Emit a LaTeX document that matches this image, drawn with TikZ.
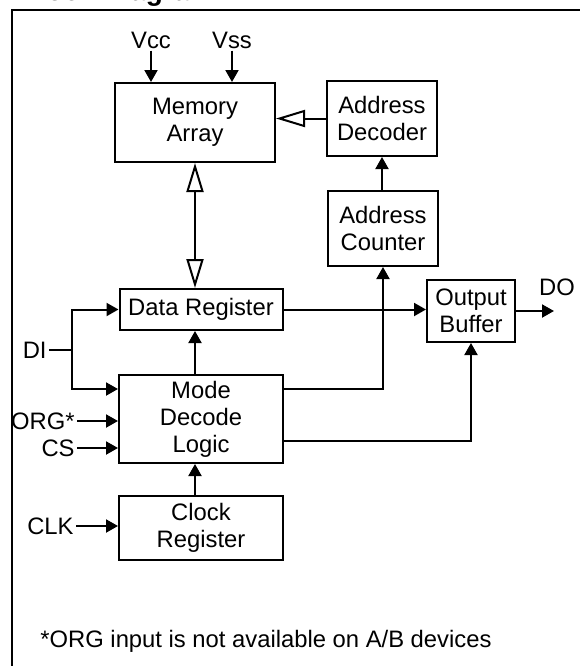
\documentclass[tikz,border=0pt]{standalone}
\usepackage{fontspec}
\setmainfont{Liberation Sans}
\usetikzlibrary{arrows.meta,positioning}

\begin{document}
\begin{tikzpicture}[
  x=0.5pt, y=-0.5pt,
  every node/.style={font=\fontsize{11.9}{13.5}\selectfont},
  box/.style={draw, line width=1pt, align=center, inner sep=0pt},
  lbl/.style={inner sep=1pt},
  wire/.style={line width=1pt},
  arr/.style={-{Triangle[length=6pt, width=6.5pt]}, line width=1pt},
  hol/.style={-{Triangle[open, length=14.5pt, width=8.5pt]}, line width=1pt},
  dbl/.style={{Triangle[open, length=14.5pt, width=8.5pt]}-{Triangle[open, length=14.5pt, width=8.5pt]}, line width=1pt}
]
\useasboundingbox (0,0) rectangle (580,666);
\draw[line width=1pt] (12,10) rectangle (610,700);
\node[anchor=base west, inner sep=0pt, font=\fontsize{14}{16}\selectfont\bfseries] (title) at (18,0) {Block Diagram};

% blocks
\node[box, minimum width=80pt, minimum height=39.5pt] (mem) at (195,122.5) {Memory\\Array};
\node[box, minimum width=55pt, minimum height=37.5pt] (dec) at (382,118.5) {Address\\Decoder};
\node[box, minimum width=55pt, minimum height=37.5pt] (cnt) at (383,228.5) {Address\\Counter};
\node[box, minimum width=81.5pt, minimum height=20.5pt] (dreg) at (201,309.5) {Data Register};
\node[box, minimum width=44pt, minimum height=31pt] (obuf) at (471,311) {Output\\Buffer};
\node[box, minimum width=82pt, minimum height=44pt] (mode) at (201,419) {Mode\\Decode\\Logic};
\node[box, minimum width=82pt, minimum height=32pt] (clk) at (201,528) {Clock\\Register};

% pins
\node[lbl] (vcc) at (151,40) {Vcc};
\node[lbl] (vss) at (232,40) {Vss};
\node[lbl, anchor=east] (di) at (49,350) {DI};
\node[lbl, anchor=east] (org) at (77,421) {ORG*};
\node[lbl, anchor=east] (cs) at (77,448) {CS};
\node[lbl, anchor=east] (clkin) at (76,526) {CLK};
\node[lbl] (do) at (557,287) {DO};
\coordinate (dij) at (72,350);
\coordinate (doend) at (554,311);

\node[anchor=base west, inner sep=1pt] (note) at (38,647) {*ORG input is not available on A/B devices};

% connections
\draw[arr] (vcc.south) -- (vcc.south |- mem.north);
\draw[arr] (vss.south) -- (vss.south |- mem.north);
\draw[hol] (dec.west) -- (dec.west -| mem.east);
\draw[arr] (cnt.north -| dec.south) -- (dec.south);
\draw[dbl] (mem.south) -- (mem.south |- dreg.north);
\draw[wire] (di.east) -- (dij);
\draw[arr] (dij) |- (dreg.west);
\draw[arr] (dij) |- ([yshift=-7.5pt]mode.north west);
\draw[arr] (org.east) -- (org.east -| mode.west);
\draw[arr] (cs.east) -- (cs.east -| mode.west);
\draw[arr] (clkin.east) -- (clkin.east -| clk.west);
\draw[arr] (clk.north -| mem.south) -- (mode.south -| mem.south);
\draw[arr] (mode.north -| mem.south) -- (dreg.south -| mem.south);
\draw[arr] (dreg.east) -- (dreg.east -| obuf.west);
\draw[arr] ([yshift=-7.5pt]mode.north east) -| (cnt.south);
\draw[arr] ([yshift=11.5pt]mode.south east) -| (obuf.south);
\draw[arr] (obuf.east) -- (doend);
\end{tikzpicture}
\end{document}
